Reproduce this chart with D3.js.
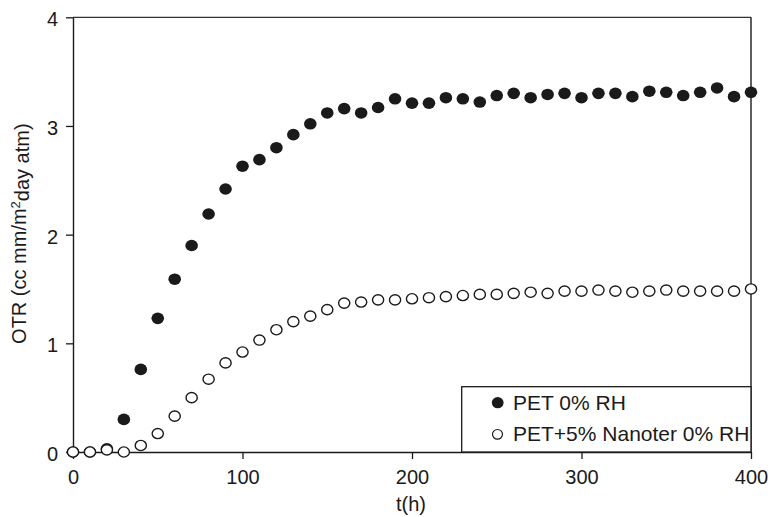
<!DOCTYPE html>
<html>
<head>
<meta charset="utf-8">
<script src="https://cdn.jsdelivr.net/npm/d3@7/dist/d3.min.js"></script>
<style>
  body { margin: 0; background: #fff; }
  text { font-family: "Liberation Sans", Arial, sans-serif; fill: #1a1a1a; }
</style>
</head>
<body>
<svg id="chart"></svg>
<script>
const width = 771, height = 517;
const margin = { top: 17.3, right: 20, bottom: 65, left: 73 };

// time in hours
const hours = [0, 10, 20, 30, 40, 50, 60, 70, 80, 90, 100, 110, 120, 130, 140, 150, 160, 170, 180, 190,
  200, 210, 220, 230, 240, 250, 260, 270, 280, 290, 300, 310, 320, 330, 340, 350, 360, 370, 380, 390, 400];

// PET 0% RH
const petValues = [0, 0, 0.03, 0.30, 0.76, 1.23, 1.59, 1.90, 2.19, 2.42, 2.63, 2.69, 2.80, 2.92, 3.02,
  3.12, 3.16, 3.12, 3.17, 3.25, 3.21, 3.21, 3.26, 3.25, 3.22, 3.28, 3.30, 3.26, 3.29, 3.30,
  3.26, 3.30, 3.30, 3.27, 3.32, 3.31, 3.28, 3.31, 3.35, 3.27, 3.31];

// PET+5% Nanoter 0% RH
const nanoValues = [0, 0, 0.02, 0, 0.06, 0.17, 0.33, 0.50, 0.67, 0.82, 0.92, 1.03, 1.125, 1.20, 1.25,
  1.31, 1.37, 1.38, 1.40, 1.40, 1.41, 1.42, 1.43, 1.44, 1.45, 1.45, 1.46, 1.47, 1.46, 1.48,
  1.48, 1.49, 1.48, 1.47, 1.48, 1.49, 1.48, 1.48, 1.48, 1.48, 1.50];

const xTicks = [0, 100, 200, 300, 400];
const yTicks = [0, 1, 2, 3, 4];
const legendLabels = ["PET 0% RH", "PET+5% Nanoter 0% RH"];

const svg = d3.select("#chart")
    .attr("width", width)
    .attr("height", height);

const x = d3.scaleLinear().domain([0, 400]).range([margin.left, width - margin.right]);
const y = d3.scaleLinear().domain([0, 4]).range([height - margin.bottom, margin.top]);

const ink = "#1a1a1a";

// axes
const xAxis = svg.append("g")
    .attr("transform", `translate(0,${y(0)})`)
    .call(d3.axisBottom(x).tickValues(xTicks).tickFormat(d3.format("d"))
        .tickSize(7).tickSizeOuter(0).tickPadding(11));

const yAxis = svg.append("g")
    .attr("transform", `translate(${x(0)},0)`)
    .call(d3.axisLeft(y).tickValues(yTicks).tickFormat(d3.format("d"))
        .tickSize(7).tickSizeOuter(0).tickPadding(8));

[xAxis, yAxis].forEach(g => {
    g.select(".domain").attr("stroke", ink).attr("stroke-width", 1.4);
    g.selectAll(".tick line").attr("stroke", ink).attr("stroke-width", 1.3);
    g.selectAll(".tick text")
        .style("font-family", '"Liberation Sans", Arial, sans-serif')
        .style("font-size", "20px")
        .attr("fill", ink);
});
yAxis.selectAll(".tick text").attr("dy", "0.42em");
xAxis.selectAll(".tick text").attr("dy", "0.71em");

// top and right frame
svg.append("line")
    .attr("x1", x(0)).attr("x2", x(400))
    .attr("y1", y(4)).attr("y2", y(4))
    .attr("stroke", "#333").attr("stroke-width", 1.3);
svg.append("line")
    .attr("x1", x(400)).attr("x2", x(400))
    .attr("y1", y(4)).attr("y2", y(0))
    .attr("stroke", ink).attr("stroke-width", 1.4);

// axis titles
svg.append("text")
    .attr("x", (x(0) + x(400)) / 2 - 1)
    .attr("y", 510.5)
    .attr("text-anchor", "middle")
    .style("font-size", "20px")
    .text("t(h)");

const yTitle = svg.append("text")
    .attr("transform", `translate(25.5,${(y(0) + y(4)) / 2 - 1}) rotate(-90)`)
    .attr("text-anchor", "middle")
    .style("font-size", "20px");
yTitle.append("tspan").text("OTR (cc mm/m");
yTitle.append("tspan").attr("dy", "-0.45em").style("font-size", "13px").text("2");
yTitle.append("tspan").attr("dy", "0.45em").text("day atm)");

// legend box
const legend = svg.append("g");
legend.append("rect")
    .attr("x", 461.7).attr("y", 386.7)
    .attr("width", x(400) - 461.7).attr("height", y(0) - 386.7)
    .attr("fill", "#fff")
    .attr("stroke", ink).attr("stroke-width", 1.3);

// data points
const pts = hours.map((h, i) => ({ h, pet: petValues[i], nano: nanoValues[i] }));

svg.append("g").selectAll("ellipse")
    .data(pts)
    .join("ellipse")
    .attr("cx", d => x(d.h))
    .attr("cy", d => y(d.pet))
    .attr("rx", 6.3).attr("ry", 5.8)
    .attr("fill", ink);

svg.append("g").selectAll("ellipse")
    .data(pts)
    .join("ellipse")
    .attr("cx", d => x(d.h))
    .attr("cy", d => y(d.nano))
    .attr("rx", 5.6).attr("ry", 5.1)
    .attr("fill", "#fff")
    .attr("stroke", ink).attr("stroke-width", 1.4);

// legend entries
legend.append("ellipse")
    .attr("cx", 497.7).attr("cy", 402.7)
    .attr("rx", 5.9).attr("ry", 5.6)
    .attr("fill", ink);
legend.append("ellipse")
    .attr("cx", 497.5).attr("cy", 434.3)
    .attr("rx", 5).attr("ry", 4.8)
    .attr("fill", "#fff")
    .attr("stroke", ink).attr("stroke-width", 1.2);

legend.selectAll("text.lg")
    .data(legendLabels)
    .join("text")
    .attr("class", "lg")
    .attr("x", 513)
    .attr("y", (d, i) => 410 + i * 31)
    .style("font-size", "21px")
    .text(d => d);
</script>
</body>
</html>
